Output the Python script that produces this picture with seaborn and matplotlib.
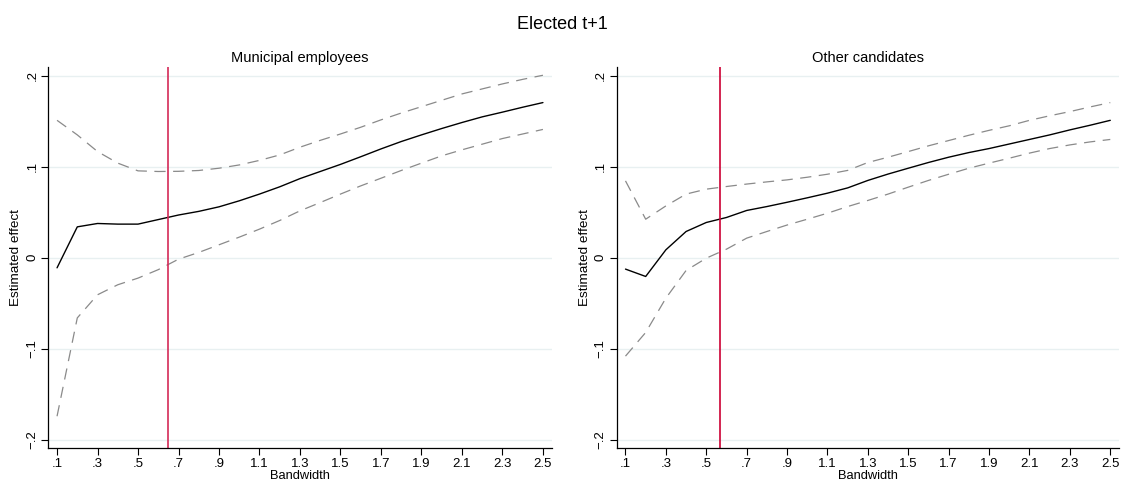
import numpy as np
import pandas as pd
import matplotlib
matplotlib.use("Agg")
import matplotlib.pyplot as plt
import seaborn as sns

# bandwidths 0.1 .. 2.5
bandwidth = [0.1, 0.2, 0.3, 0.4, 0.5, 0.6, 0.7, 0.8, 0.9, 1.0, 1.1, 1.2, 1.3,
             1.4, 1.5, 1.6, 1.7, 1.8, 1.9, 2.0, 2.1, 2.2, 2.3, 2.4, 2.5]

# Municipal employees
mun_est = [-0.011, 0.034, 0.0377, 0.037, 0.037, 0.042, 0.047, 0.051, 0.056, 0.0626,
           0.070, 0.078, 0.087, 0.0948, 0.1026, 0.111, 0.1196, 0.1277, 0.135, 0.142,
           0.1486, 0.1548, 0.160, 0.1654, 0.1705]
mun_hi = [0.151, 0.135, 0.1167, 0.104, 0.0955, 0.0948, 0.095, 0.0959, 0.0984, 0.102,
          0.107, 0.113, 0.1215, 0.129, 0.136, 0.1434, 0.1515, 0.159, 0.166, 0.173,
          0.180, 0.1855, 0.191, 0.196, 0.2005]
mun_lo = [-0.174, -0.066, -0.0406, -0.0296, -0.0223, -0.013, -0.0015, 0.0059, 0.0143, 0.0227,
          0.0315, 0.041, 0.0516, 0.0607, 0.070, 0.079, 0.0874, 0.0959, 0.104, 0.112,
          0.1186, 0.1248, 0.131, 0.136, 0.141]
mun_opt = 0.65

# Other candidates
oth_est = [-0.0124, -0.0205, 0.0088, 0.0289, 0.0388, 0.0443, 0.052, 0.0563, 0.061, 0.0659,
           0.071, 0.0768, 0.085, 0.092, 0.0984, 0.1047, 0.1105, 0.1156, 0.120, 0.125,
           0.130, 0.135, 0.1405, 0.1456, 0.151]
oth_hi = [0.0845, 0.0424, 0.057, 0.070, 0.0754, 0.0783, 0.081, 0.0834, 0.0856, 0.0885,
          0.0918, 0.096, 0.1047, 0.1105, 0.1167, 0.123, 0.1288, 0.1346, 0.140, 0.145,
          0.151, 0.156, 0.1606, 0.1657, 0.1705]
oth_lo = [-0.108, -0.082, -0.0443, -0.0139, -0.0004, 0.0095, 0.0216, 0.0289, 0.036, 0.0424,
          0.049, 0.0563, 0.063, 0.070, 0.0776, 0.085, 0.0918, 0.0984, 0.104, 0.1094,
          0.115, 0.120, 0.124, 0.1273, 0.130]
oth_opt = 0.57

xticks = [0.1, 0.3, 0.5, 0.7, 0.9, 1.1, 1.3, 1.5, 1.7, 1.9, 2.1, 2.3, 2.5]
xtick_labels = [".1", ".3", ".5", ".7", ".9", "1.1", "1.3", "1.5", "1.7", "1.9", "2.1", "2.3", "2.5"]
yticks = [-0.2, -0.1, 0, 0.1, 0.2]
ytick_labels = ["\u2212.2", "\u2212.1", "0", ".1", ".2"]

sns.set_style("white")
plt.rcParams["font.family"] = ["Liberation Sans", "DejaVu Sans"]
plt.rcParams["text.color"] = "black"
plt.rcParams["axes.labelcolor"] = "black"
plt.rcParams["xtick.color"] = "black"
plt.rcParams["ytick.color"] = "black"

fig = plt.figure(figsize=(11.25, 4.86), dpi=100)
ax1 = fig.add_axes([0.0427, 0.078, 0.448, 0.784])
ax2 = fig.add_axes([0.548, 0.078, 0.447, 0.784])

panels = [
    (ax1, "Municipal employees", mun_est, mun_hi, mun_lo, mun_opt, "#d42a58"),
    (ax2, "Other candidates", oth_est, oth_hi, oth_lo, oth_opt, "#cc0033"),
]

for ax, title, est, hi, lo, opt, red in panels:
    df = pd.DataFrame({"bw": bandwidth, "est": est, "hi": hi, "lo": lo})
    ax.yaxis.grid(True, color="#e8f0f1", linewidth=1.0)
    ax.set_axisbelow(True)
    sns.lineplot(data=df, x="bw", y="hi", ax=ax, color="#8a8a8a", linewidth=0.9,
                 linestyle=(0, (9, 6)))
    sns.lineplot(data=df, x="bw", y="lo", ax=ax, color="#8a8a8a", linewidth=0.9,
                 linestyle=(0, (9, 6)))
    sns.lineplot(data=df, x="bw", y="est", ax=ax, color="black", linewidth=1.0)
    ax.axvline(opt, color=red, linewidth=1.2)
    ax.set_xlim(0.0555, 2.545)
    ax.set_ylim(-0.209, 0.2095)
    ax.set_xticks(xticks)
    ax.set_xticklabels(xtick_labels, fontsize=9.5)
    ax.set_yticks(yticks)
    ax.set_yticklabels(ytick_labels, fontsize=9.5, rotation=90, va="center")
    ax.tick_params(axis="both", direction="out", length=5, width=0.8, color="black",
                   bottom=True, left=True, pad=2)
    ax.set_xlabel("Bandwidth", fontsize=9.3, labelpad=0)
    ax.set_ylabel("Estimated effect", fontsize=9.7, labelpad=3)
    ax.set_title(title, fontsize=10.5, pad=4)
    for side in ["top", "right"]:
        ax.spines[side].set_visible(False)
    for side in ["left", "bottom"]:
        ax.spines[side].set_color("black")
        ax.spines[side].set_linewidth(0.9)

fig.suptitle("Elected t+1", fontsize=13, y=0.968)
fig.savefig("out.png", dpi=100)
